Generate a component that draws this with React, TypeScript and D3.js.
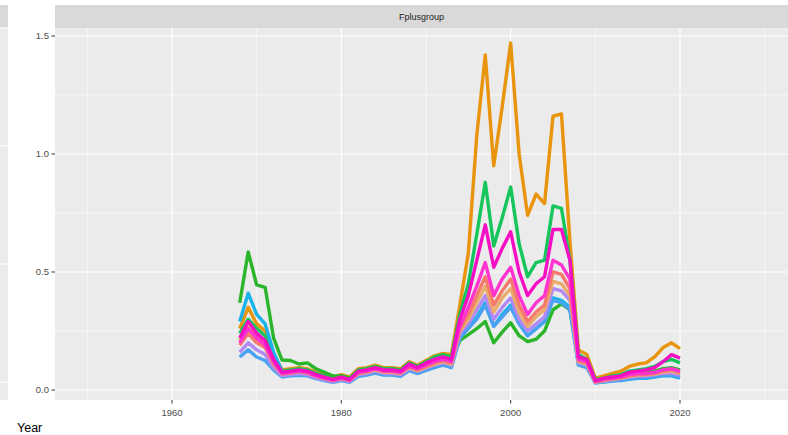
import React from 'react';
import * as d3 from 'd3';

// years 1968..2020
const years = d3.range(1968, 2021);

const orange = [0.26, 0.35, 0.28, 0.25, 0.15, 0.085, 0.09, 0.095, 0.09, 0.075, 0.065, 0.055, 0.065, 0.055, 0.09, 0.095, 0.105, 0.095, 0.095, 0.09, 0.12, 0.105, 0.125, 0.145, 0.155, 0.15, 0.36, 0.58, 1.08, 1.42, 0.95, 1.2, 1.47, 1.0, 0.74, 0.83, 0.79, 1.16, 1.17, 0.63, 0.17, 0.15, 0.05, 0.06, 0.07, 0.08, 0.1, 0.11, 0.115, 0.14, 0.18, 0.2, 0.175];
const midGreen = [0.24, 0.3, 0.26, 0.23, 0.14, 0.08, 0.085, 0.09, 0.085, 0.07, 0.06, 0.05, 0.06, 0.05, 0.085, 0.09, 0.1, 0.09, 0.09, 0.085, 0.115, 0.1, 0.12, 0.14, 0.15, 0.14, 0.32, 0.45, 0.66, 0.88, 0.61, 0.73, 0.86, 0.62, 0.48, 0.54, 0.55, 0.78, 0.77, 0.55, 0.15, 0.13, 0.045, 0.05, 0.06, 0.065, 0.08, 0.085, 0.09, 0.1, 0.12, 0.13, 0.115];
const brightGreen = [0.37, 0.585, 0.445, 0.435, 0.22, 0.127, 0.125, 0.11, 0.115, 0.09, 0.075, 0.06, 0.06, 0.05, 0.08, 0.085, 0.095, 0.085, 0.085, 0.08, 0.105, 0.09, 0.11, 0.13, 0.14, 0.13, 0.21, 0.235, 0.26, 0.29, 0.2, 0.245, 0.285, 0.23, 0.205, 0.215, 0.25, 0.34, 0.365, 0.34, 0.13, 0.12, 0.04, 0.045, 0.05, 0.055, 0.065, 0.07, 0.075, 0.08, 0.09, 0.095, 0.085];
const magenta = [0.22, 0.29, 0.24, 0.21, 0.13, 0.075, 0.08, 0.085, 0.08, 0.065, 0.055, 0.045, 0.055, 0.045, 0.08, 0.085, 0.095, 0.085, 0.085, 0.08, 0.11, 0.095, 0.115, 0.13, 0.14, 0.13, 0.3, 0.4, 0.55, 0.7, 0.52, 0.6, 0.67, 0.5, 0.4, 0.45, 0.48, 0.68, 0.68, 0.55, 0.14, 0.13, 0.04, 0.05, 0.055, 0.06, 0.075, 0.08, 0.085, 0.095, 0.12, 0.15, 0.135];
const pink = [0.2, 0.26, 0.22, 0.19, 0.12, 0.07, 0.075, 0.08, 0.075, 0.06, 0.05, 0.042, 0.05, 0.042, 0.075, 0.08, 0.09, 0.08, 0.08, 0.075, 0.1, 0.09, 0.105, 0.12, 0.13, 0.12, 0.27, 0.35, 0.44, 0.54, 0.4, 0.47, 0.52, 0.4, 0.32, 0.37, 0.4, 0.55, 0.53, 0.47, 0.13, 0.12, 0.037, 0.045, 0.05, 0.055, 0.065, 0.07, 0.07, 0.075, 0.085, 0.09, 0.08];
const salmon = [0.19, 0.24, 0.2, 0.18, 0.11, 0.068, 0.072, 0.078, 0.072, 0.058, 0.048, 0.04, 0.048, 0.04, 0.072, 0.078, 0.088, 0.078, 0.078, 0.072, 0.098, 0.085, 0.1, 0.115, 0.125, 0.115, 0.26, 0.32, 0.4, 0.48, 0.36, 0.42, 0.47, 0.36, 0.29, 0.33, 0.36, 0.5, 0.49, 0.43, 0.125, 0.115, 0.035, 0.042, 0.048, 0.052, 0.06, 0.065, 0.066, 0.07, 0.08, 0.085, 0.075];
const peach = [0.21, 0.27, 0.23, 0.2, 0.12, 0.07, 0.075, 0.08, 0.075, 0.062, 0.05, 0.042, 0.05, 0.042, 0.07, 0.075, 0.085, 0.075, 0.075, 0.07, 0.095, 0.082, 0.097, 0.11, 0.12, 0.11, 0.25, 0.3, 0.37, 0.44, 0.33, 0.39, 0.43, 0.33, 0.27, 0.31, 0.34, 0.46, 0.45, 0.4, 0.12, 0.11, 0.034, 0.04, 0.046, 0.05, 0.058, 0.062, 0.064, 0.068, 0.076, 0.08, 0.07];
const violet = [0.16, 0.2, 0.17, 0.15, 0.095, 0.06, 0.065, 0.07, 0.065, 0.052, 0.044, 0.036, 0.044, 0.036, 0.065, 0.07, 0.08, 0.07, 0.07, 0.065, 0.09, 0.078, 0.092, 0.105, 0.115, 0.105, 0.24, 0.28, 0.34, 0.4, 0.3, 0.35, 0.39, 0.3, 0.25, 0.28, 0.31, 0.43, 0.42, 0.38, 0.115, 0.105, 0.032, 0.038, 0.043, 0.047, 0.054, 0.058, 0.06, 0.064, 0.07, 0.072, 0.062];
const cyan = [0.29, 0.41, 0.32, 0.28, 0.16, 0.08, 0.07, 0.075, 0.07, 0.06, 0.05, 0.04, 0.045, 0.035, 0.06, 0.065, 0.075, 0.065, 0.065, 0.06, 0.085, 0.07, 0.085, 0.1, 0.11, 0.1, 0.23, 0.27, 0.31, 0.37, 0.27, 0.32, 0.36, 0.29, 0.23, 0.26, 0.29, 0.39, 0.38, 0.35, 0.11, 0.1, 0.03, 0.035, 0.04, 0.04, 0.045, 0.05, 0.05, 0.055, 0.06, 0.06, 0.05];
const blue = [0.14, 0.17, 0.14, 0.125, 0.085, 0.055, 0.06, 0.062, 0.06, 0.048, 0.04, 0.033, 0.04, 0.033, 0.058, 0.063, 0.072, 0.063, 0.063, 0.058, 0.082, 0.07, 0.083, 0.095, 0.105, 0.095, 0.22, 0.26, 0.3, 0.36, 0.27, 0.31, 0.35, 0.28, 0.23, 0.26, 0.29, 0.38, 0.37, 0.34, 0.105, 0.095, 0.03, 0.034, 0.038, 0.042, 0.048, 0.052, 0.054, 0.057, 0.062, 0.064, 0.055];

// drawing order: first drawn ends up underneath
const series = [
  { values: orange, color: '#E8940C' },
  { values: midGreen, color: '#16C55C' },
  { values: brightGreen, color: '#2BB52B' },
  { values: cyan, color: '#1AB2EA' },
  { values: blue, color: '#48A2F2' },
  { values: violet, color: '#B38AF4' },
  { values: peach, color: '#E9AC6C' },
  { values: salmon, color: '#F67A6C' },
  { values: pink, color: '#FF33D0' },
  { values: magenta, color: '#F50EC4' },
];

const xMajor = [1960, 1980, 2000, 2020];
const xMinor = [1950, 1970, 1990, 2010, 2030];
const yMajor = [0, 0.5, 1.0, 1.5];
const yMinor = [0.25, 0.75, 1.25];
const stripLabel = 'Fplusgroup';

const W = 788;
const H = 435;
const panel = { left: 55, right: 788, top: 28, bottom: 400 };
const font = '"Liberation Sans", Arial, Helvetica, sans-serif';

export default function App() {
  const x = d3.scaleLinear().domain([1960, 2020]).range([172, 680]);
  const y = d3.scaleLinear().domain([0, 1.5]).range([390, 36]);
  const line = d3
    .line<number>()
    .x((_, i) => x(years[i]))
    .y((d) => y(d));

  return (
    <svg
      width={W}
      height={H}
      style={{ position: 'absolute', left: 0, top: 0, background: '#fff' }}
      fontFamily={font}
    >
      {/* neighbouring facet, cut off at the left */}
      <rect x={0} y={5} width={8} height={23} fill="#D9D9D9" />
      <rect x={0} y={28} width={8} height={372} fill="#EBEBEB" />
      {yMajor.map((v) => (
        <line key={'lm' + v} x1={0} x2={8} y1={y(v) - 8} y2={y(v) - 8} stroke="#fff" strokeWidth={1.2} />
      ))}

      {/* strip */}
      <rect x={panel.left} y={5} width={panel.right - panel.left} height={23} fill="#D9D9D9" />
      <text x={(panel.left + panel.right) / 2} y={20} textAnchor="middle" fontSize={9} fill="#1A1A1A">
        {stripLabel}
      </text>

      {/* panel */}
      <rect
        x={panel.left}
        y={panel.top}
        width={panel.right - panel.left}
        height={panel.bottom - panel.top}
        fill="#EBEBEB"
      />
      <g stroke="#fff">
        {yMinor.map((v) => (
          <line key={'ym' + v} x1={panel.left} x2={panel.right} y1={y(v)} y2={y(v)} strokeWidth={0.6} />
        ))}
        {xMinor.map((v) => (
          <line key={'xm' + v} x1={x(v)} x2={x(v)} y1={panel.top} y2={panel.bottom} strokeWidth={0.6} />
        ))}
        {yMajor.map((v) => (
          <line key={'yM' + v} x1={panel.left} x2={panel.right} y1={y(v)} y2={y(v)} strokeWidth={1.2} />
        ))}
        {xMajor.map((v) => (
          <line key={'xM' + v} x1={x(v)} x2={x(v)} y1={panel.top} y2={panel.bottom} strokeWidth={1.2} />
        ))}
      </g>

      {series.map((s, i) => (
        <path
          key={i}
          d={line(s.values) || ''}
          fill="none"
          stroke={s.color}
          strokeWidth={3.4}
          strokeLinejoin="round"
          strokeLinecap="butt"
        />
      ))}

      {/* y axis */}
      {yMajor.map((v) => (
        <g key={'yt' + v}>
          <line x1={51.5} x2={panel.left} y1={y(v)} y2={y(v)} stroke="#333" strokeWidth={1} />
          <text x={49} y={y(v) + 3.2} textAnchor="end" fontSize={9.5} fill="#4D4D4D">
            {d3.format('.1f')(v)}
          </text>
        </g>
      ))}

      {/* x axis */}
      {xMajor.map((v) => (
        <g key={'xt' + v}>
          <line x1={x(v)} x2={x(v)} y1={panel.bottom} y2={panel.bottom + 3.5} stroke="#333" strokeWidth={1} />
          <text x={x(v)} y={416} textAnchor="middle" fontSize={9.5} fill="#4D4D4D">
            {v}
          </text>
        </g>
      ))}

      <text x={17} y={432} fontSize={12.5} fill="#000">
        Year
      </text>
    </svg>
  );
}
